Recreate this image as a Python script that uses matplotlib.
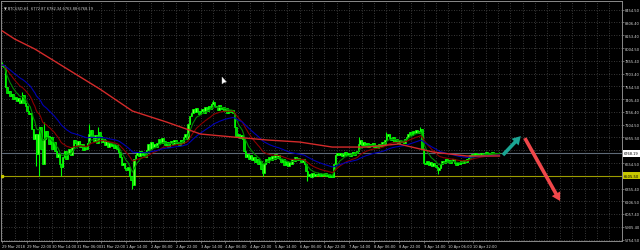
import matplotlib
matplotlib.use('Agg')
import matplotlib.pyplot as plt
import matplotlib.transforms as mtransforms
from matplotlib.ticker import MultipleLocator
from matplotlib.patches import FancyArrowPatch, Polygon
import numpy as np
import pandas as pd

# ---------------- data (BTCUSD H1) ----------------
first_open = 7790
closes = [
    7805, 7782, 7547, 7476, 7500, 7441, 7465, 7406, 7430, 7383,
    7418, 7359, 7394, 7453, 7359, 7324, 7265, 7230, 7242, 7054,
    6936, 6995, 6760, 6995, 7077, 6819, 6643, 6936, 7030, 6972,
    6878, 6960, 6819, 6901, 6796, 6725, 6760, 6643, 6608, 6725,
    6796, 6702, 6760, 6819, 6749, 6842, 6925, 6889, 6854, 6913,
    6842, 6878, 6807, 6854, 6819, 6889, 6995, 7042, 6960, 6913,
    6983, 6889, 7019, 6972, 6901, 6936, 6866, 6913, 6842, 6889,
    6854, 6878, 6831, 6866, 6819, 6784, 6725, 6631, 6655, 6596,
    6572, 6608, 6502, 6455, 6396, 6702, 6749, 6784, 6737, 6796,
    6749, 6784, 6725, 6807, 6878, 6819, 6901, 6842, 6878, 6842,
    6889, 6936, 6889, 6948, 6913, 6866, 6901, 6842, 6889, 6913,
    6878, 6925, 6889, 6901, 6866, 6925, 6889, 6960, 6995, 6936,
    7113, 7206, 7242, 7289, 7253, 7300, 7265, 7230, 7265, 7289,
    7242, 7312, 7265, 7324, 7289, 7347, 7371, 7324, 7312, 7277,
    7336, 7289, 7312, 7265, 7300, 7242, 7277, 7253, 7277, 7242,
    7077, 6972, 6995, 6948, 6983, 6936, 6796, 6725, 6760, 6702,
    6749, 6690, 6725, 6666, 6702, 6643, 6678, 6584, 6537, 6643,
    6702, 6666, 6725, 6690, 6737, 6702, 6760, 6713, 6749, 6702,
    6666, 6702, 6631, 6678, 6619, 6666, 6643, 6702, 6678, 6725,
    6690, 6713, 6702, 6666, 6702, 6643, 6561, 6502, 6526, 6490,
    6537, 6502, 6526, 6514, 6537, 6502, 6526, 6514, 6537, 6502,
    6526, 6490, 6514, 6490, 6643, 6749, 6772, 6749, 6772, 6737,
    6760, 6784, 6749, 6772, 6737, 6760, 6784, 6749, 6772, 6796,
    6878, 6925, 6866, 6901, 6854, 6889, 6842, 6878, 6854, 6889,
    6842, 6866, 6831, 6878, 6854, 6901, 6878, 6925, 6972, 6995,
    6948, 6925, 6960, 6901, 6936, 6889, 6925, 6901, 6913, 6889,
    6936, 6960, 6995, 7019, 6983, 7030, 7007, 7042, 7007, 7030,
    7054, 6819, 6655, 6643, 6678, 6631, 6666, 6619, 6655, 6631,
    6608, 6572, 6596, 6643, 6678, 6655, 6702, 6666, 6690, 6655,
    6678, 6702, 6655, 6631, 6666, 6643, 6678, 6655, 6690, 6666,
    6702, 6725, 6749, 6760, 6737, 6772, 6749, 6760, 6737, 6772,
    6749, 6760, 6784, 6749, 6772, 6760, 6784, 6760, 6772, 6749,
    6772.87, 6768.19,
]
high_spikes = {0: 7840, 13: 7488, 27: 7136, 56: 7113, 62: 7077, 136: 7398,
               230: 6960, 248: 7019, 270: 7077, 321: 6782.34}
low_spikes = {22: 6619, 24: 6502, 38: 6502, 84: 6349, 168: 6502, 197: 6443,
              281: 6526, 321: 6763.88}

ma_long_bars = [0, 8, 21, 42, 63, 84, 106, 128, 149, 171, 192, 213, 235, 256, 278, 300, 321]
ma_long_vals = [8205, 8110, 7993, 7758, 7523, 7265, 7136, 6995, 6960, 6925,
                6901, 6842, 6842, 6878, 6784, 6737, 6737]

ytick_vals = [8454.50, 8306.40, 8153.40, 8004.50, 7855.40, 7703.40, 7554.50,
              7405.40, 7256.40, 7104.50, 6955.50, 6806.40, 6654.50, 6505.50,
              6355.40, 6206.50, 6057.40, 5905.40, 5754.50]
ytick_labels = ['%.2f' % v for v in ytick_vals]
xtick_bars = list(range(0, 305, 16))
xtick_labels = ["29 Mar 2018", "29 Mar 22:00", "30 Mar 14:00", "31 Mar 06:00",
                "31 Mar 22:00", "1 Apr 14:00", "2 Apr 06:00", "2 Apr 22:00",
                "3 Apr 14:00", "4 Apr 06:00", "4 Apr 22:00", "5 Apr 14:00",
                "6 Apr 06:00", "6 Apr 22:00", "7 Apr 14:00", "8 Apr 06:00",
                "8 Apr 22:00", "9 Apr 14:00", "10 Apr 06:00", "10 Apr 22:00"]
bid_price = 6768.19
level_price = 6505.50
header = u"\u25bc BTCUSD,H1  6772.87 6782.34 6763.88 6768.19"
up_arrow = [(322, 6725), (336, 6995)]
down_arrow = [(336.5, 6975), (361, 6180)]

# ---------------- figure ----------------
W, H = 640, 251
fig = plt.figure(figsize=(W / 100, H / 100), dpi=100, facecolor='black')
ax = fig.add_axes([1 / W, 9 / H, 621 / W, 240 / H], facecolor='black')

n = len(closes)
x = np.arange(n)
c = np.array(closes, dtype=float)
o = np.concatenate([[first_open], c[:-1]])
hi = np.maximum(o, c)
lo = np.minimum(o, c)
for k, v in high_spikes.items():
    hi[k] = max(hi[k], v)
for k, v in low_spikes.items():
    lo[k] = min(lo[k], v)

ax.vlines(x, lo, hi, color='#00ff00', lw=0.8, zorder=3)
up = c >= o
dn = ~up
ax.bar(x[up], (c - o)[up], bottom=o[up], width=0.95, color='#66ff33',
       edgecolor='#00ff00', lw=0.5, zorder=4)
ax.bar(x[dn], (o - c)[dn], bottom=c[dn], width=0.95, color='#00d000',
       edgecolor='#00ff00', lw=0.5, zorder=4)

s = pd.Series(c)
ax.plot(x, s.ewm(span=8, adjust=False).mean(), color='#008a00', lw=0.8, zorder=5)
ax.plot(x, s.ewm(span=20, adjust=False).mean(), color='#8b0000', lw=0.8, zorder=5)
ax.plot(x, s.ewm(span=40, adjust=False).mean(), color='#0000b4', lw=0.8, zorder=5)
ax.plot(ma_long_bars, ma_long_vals, color='#d42a2a', lw=1.0, zorder=5)

# horizontal lines
ax.axhline(bid_price, color='#5f6b78', lw=0.8, zorder=2)
ax.axhline(level_price, color='#9c9c00', lw=0.8, zorder=2)
ax.plot([0], [level_price], marker='s', ms=2, color='#c8c800', zorder=6)

# arrows
for (p0, p1, col) in [(up_arrow[0], up_arrow[1], '#1aa593'),
                      (down_arrow[0], down_arrow[1], '#f0474a')]:
    arr = FancyArrowPatch(p0, p1, arrowstyle='simple,head_length=6,head_width=7,tail_width=2.6',
                          mutation_scale=1, color=col, lw=0, zorder=7)
    ax.add_patch(arr)

# limits
ax.set_xlim(-0.84, 400.1)
ax.set_ylim(5739.3, 8556.6)

# grid / ticks
ax.yaxis.tick_right()
ax.set_yticks(ytick_vals)
ax.set_yticklabels(ytick_labels)
ax.set_xticks(xtick_bars)
ax.set_xticklabels(xtick_labels)
ax.xaxis.set_minor_locator(MultipleLocator(8))
for lbl in ax.get_xticklabels():
    lbl.set_horizontalalignment('left')
ax.tick_params(axis='y', which='both', colors='#8a8a8a', labelcolor='#d8d8d8',
               labelsize=2.6, length=1.5, width=0.5, pad=0.8)
ax.tick_params(axis='x', which='major', colors='#8a8a8a', labelcolor='#d8d8d8',
               labelsize=2.6, length=1.5, width=0.5, pad=0.6)
ax.tick_params(axis='x', which='minor', length=0)
ax.grid(True, which='both', axis='x', color='#4c4c4c', lw=0.6, ls=(0, (1, 2)))
ax.grid(True, which='major', axis='y', color='#4c4c4c', lw=0.6, ls=(0, (1, 2)))
ax.set_axisbelow(True)
for sp in ax.spines.values():
    sp.set_color('#8a8a8a')
    sp.set_linewidth(0.7)

# price boxes on the right axis
trans = mtransforms.blended_transform_factory(ax.transAxes, ax.transData)
ax.text(1.003, bid_price, '%.2f' % bid_price, transform=trans, fontsize=2.6,
        color='black', va='center', ha='left', zorder=10, clip_on=False,
        bbox=dict(boxstyle='square,pad=0.35', fc='white', ec='white', lw=0))
ax.text(1.003, level_price, '%.2f' % level_price, transform=trans, fontsize=2.6,
        color='black', va='center', ha='left', zorder=10, clip_on=False,
        bbox=dict(boxstyle='square,pad=0.35', fc='#c8c800', ec='#c8c800', lw=0))

# header text
fig.text(4 / W, 1 - 8 / H, header, color='#d0d0d0', fontsize=2.6, va='center', ha='left')

# mouse cursor
cx, cy = 222, 78
cur = Polygon([(cx / W, 1 - cy / H), (cx / W, 1 - (cy + 7) / H),
               ((cx + 2) / W, 1 - (cy + 5.5) / H), ((cx + 4.5) / W, 1 - (cy + 5) / H)],
              closed=True, transform=fig.transFigure, fc='white', ec='#bbbbbb', lw=0.3)
fig.patches.append(cur)

fig.savefig('out.png', dpi=100, facecolor='black')
